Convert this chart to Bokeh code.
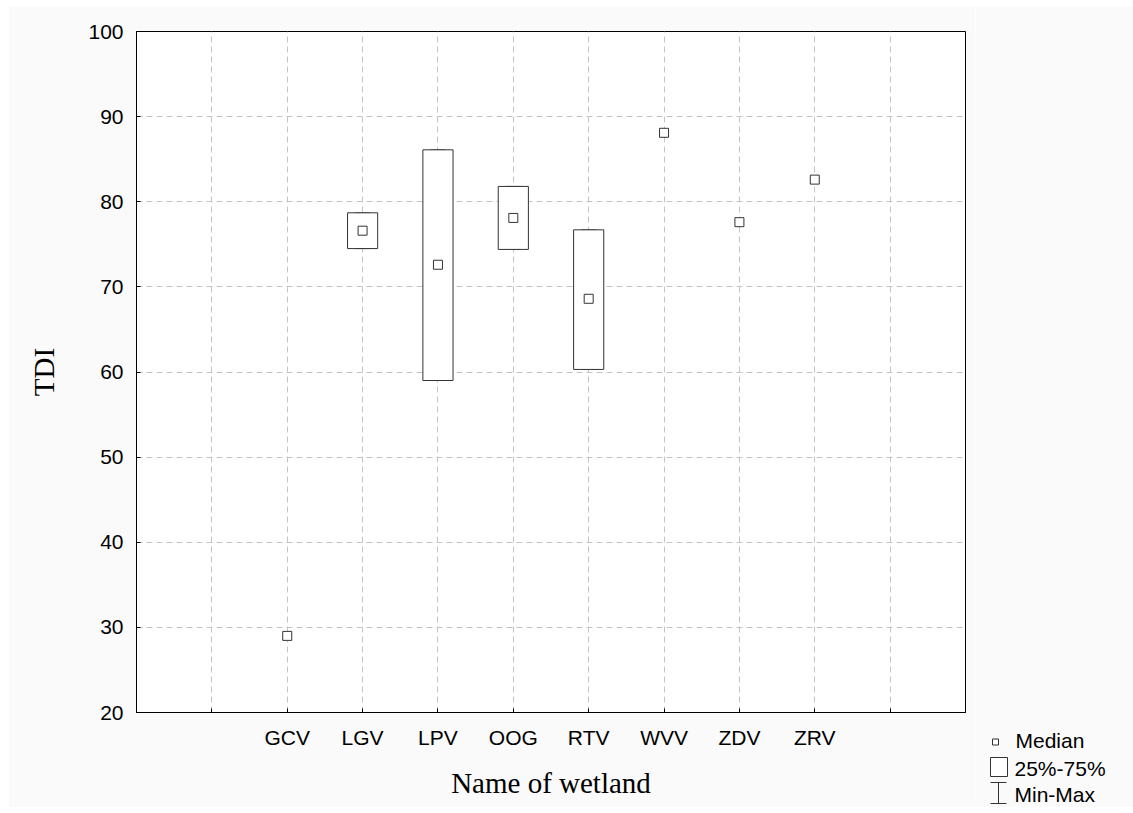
import math

from bokeh.core.properties import value
from bokeh.layouts import row
from bokeh.plotting import figure
from bokeh.models import ColumnDataSource, FixedTicker, Range1d
from bokeh.embed import file_html
from bokeh.resources import INLINE

# ---- data -------------------------------------------------------------
nan = math.nan
wetlands = ["GCV", "LGV", "LPV", "OOG", "RTV", "WVV", "ZDV", "ZRV"]
median = [29.0, 76.6, 72.6, 78.1, 68.6, 88.1, 77.6, 82.6]
# sites with a single sample have no spread to draw
q25 = [nan, 74.5, 59.0, 74.4, 60.3, nan, nan, nan]
q75 = [nan, 78.7, 86.1, 81.8, 76.7, nan, nan, nan]
v_min = [nan, 74.5, 59.0, 74.4, 60.3, nan, nan, nan]
v_max = [nan, 78.7, 86.1, 81.8, 76.7, nan, nan, nan]
y_ticks = [20, 30, 40, 50, 60, 70, 80, 90, 100]
legend_labels = ["Median", "25%-75%", "Min-Max"]

# ---- layout constants -------------------------------------------------
X_START, X_END = 0, 11          # two empty slots either side of the sites
Y_START, Y_END = 20, 100
FRAME_W, FRAME_H = 829, 681
TOP = 25
FIRST_SLOT = 2
BOX_HALF = 0.2
CAP_HALF = 0.1
BG = "#fafafa"
LINE = "#333333"

pos = [FIRST_SLOT + i for i in range(len(wetlands))]

src = ColumnDataSource(dict(
    x=pos,
    left=[p - BOX_HALF for p in pos],
    right=[p + BOX_HALF for p in pos],
    cap_l=[p - CAP_HALF for p in pos],
    cap_r=[p + CAP_HALF for p in pos],
    median=median, q25=q25, q75=q75, vmin=v_min, vmax=v_max,
))

p = figure(
    frame_width=FRAME_W, frame_height=FRAME_H,
    min_border_left=128, min_border_right=10,
    min_border_top=TOP, min_border_bottom=95,
    x_range=Range1d(X_START, X_END), y_range=Range1d(Y_START, Y_END),
    output_backend="svg", toolbar_location=None,
    background_fill_color="white", border_fill_color=BG,
)
p.margin = (6, 0, 6, 8)
p.outline_line_color = "black"
p.outline_line_width = 1

# ---- axes ------------------------------------------------------------
label_map = {t: "" for t in range(X_START, X_END + 1)}
for x, name in zip(pos, wetlands):
    label_map[x] = name
p.xaxis.ticker = FixedTicker(ticks=list(range(X_START, X_END + 1)))
p.xaxis.major_label_overrides = label_map
p.yaxis.ticker = FixedTicker(ticks=y_ticks)

for ax in (p.xaxis, p.yaxis):
    ax.axis_line_color = "black"
    ax.major_tick_line_color = "black"
    ax.major_tick_in = 4
    ax.major_tick_out = 0
    ax.minor_tick_line_color = None
    ax.major_label_text_font = "Liberation Sans"
    ax.major_label_text_font_size = "21px"
    ax.major_label_text_color = "black"
    ax.major_label_standoff = 13
    ax.axis_label_text_font = "Liberation Serif"
    ax.axis_label_text_font_size = "29px"
    ax.axis_label_text_font_style = "normal"
    ax.axis_label_text_color = "black"

p.xaxis.axis_label = "Name of wetland"
p.yaxis.axis_label = "TDI"
p.xaxis.axis_label_standoff = 15
p.yaxis.axis_label_standoff = 25

for g in (p.xgrid, p.ygrid):
    g.grid_line_color = "#c4c4c4"
    g.grid_line_dash = "6 4"
    g.grid_line_width = 1

# ---- boxes, whiskers, medians ---------------------------------------
p.segment(x0="x", y0="vmin", x1="x", y1="vmax", source=src, line_color=LINE)
p.segment(x0="cap_l", y0="vmax", x1="cap_r", y1="vmax", source=src, line_color=LINE)
p.segment(x0="cap_l", y0="vmin", x1="cap_r", y1="vmin", source=src, line_color=LINE)
p.quad(left="left", right="right", bottom="q25", top="q75", source=src,
       fill_color="white", line_color=LINE, line_width=1)
p.scatter(x="x", y="median", source=src, marker="square", size=9,
          fill_color="white", line_color=LINE, line_width=1)

# ---- key panel to the right (canvas pixel coordinates, y downwards) --
KEY_W, KEY_H = 158, 801
key = figure(
    title=None,
    frame_width=KEY_W, frame_height=KEY_H - TOP,
    min_border=0, min_border_top=TOP,
    x_range=Range1d(0, KEY_W), y_range=Range1d(KEY_H, TOP),
    x_axis_type=None, y_axis_type=None,
    output_backend="svg", toolbar_location=None,
    background_fill_color=BG, border_fill_color=BG,
)
key.margin = (6, 0, 6, 0)
key.outline_line_color = None
key.xgrid.visible = False
key.ygrid.visible = False

# median symbol
key.scatter(x=[20], y=[735.5], marker="square", size=6,
            fill_color="white", line_color=LINE, line_width=1)
# quartile box symbol
key.quad(left=[15], right=[32], top=[751], bottom=[770],
         fill_color="white", line_color=LINE, line_width=1)
# min-max I-beam symbol
key.segment(x0=[23, 15, 15], y0=[776, 776, 797], x1=[23, 31, 31], y1=[797, 776, 797],
            line_color=LINE, line_width=1)

key.text(x=[40, 39, 39], y=[734, 762, 788], text=legend_labels,
         text_font=value("Liberation Sans"), text_font_size="21px",
         text_color="black", text_baseline="alphabetic", text_align="left")

layout = row(p, key)
open("out.html", "w").write(file_html(layout, INLINE))
